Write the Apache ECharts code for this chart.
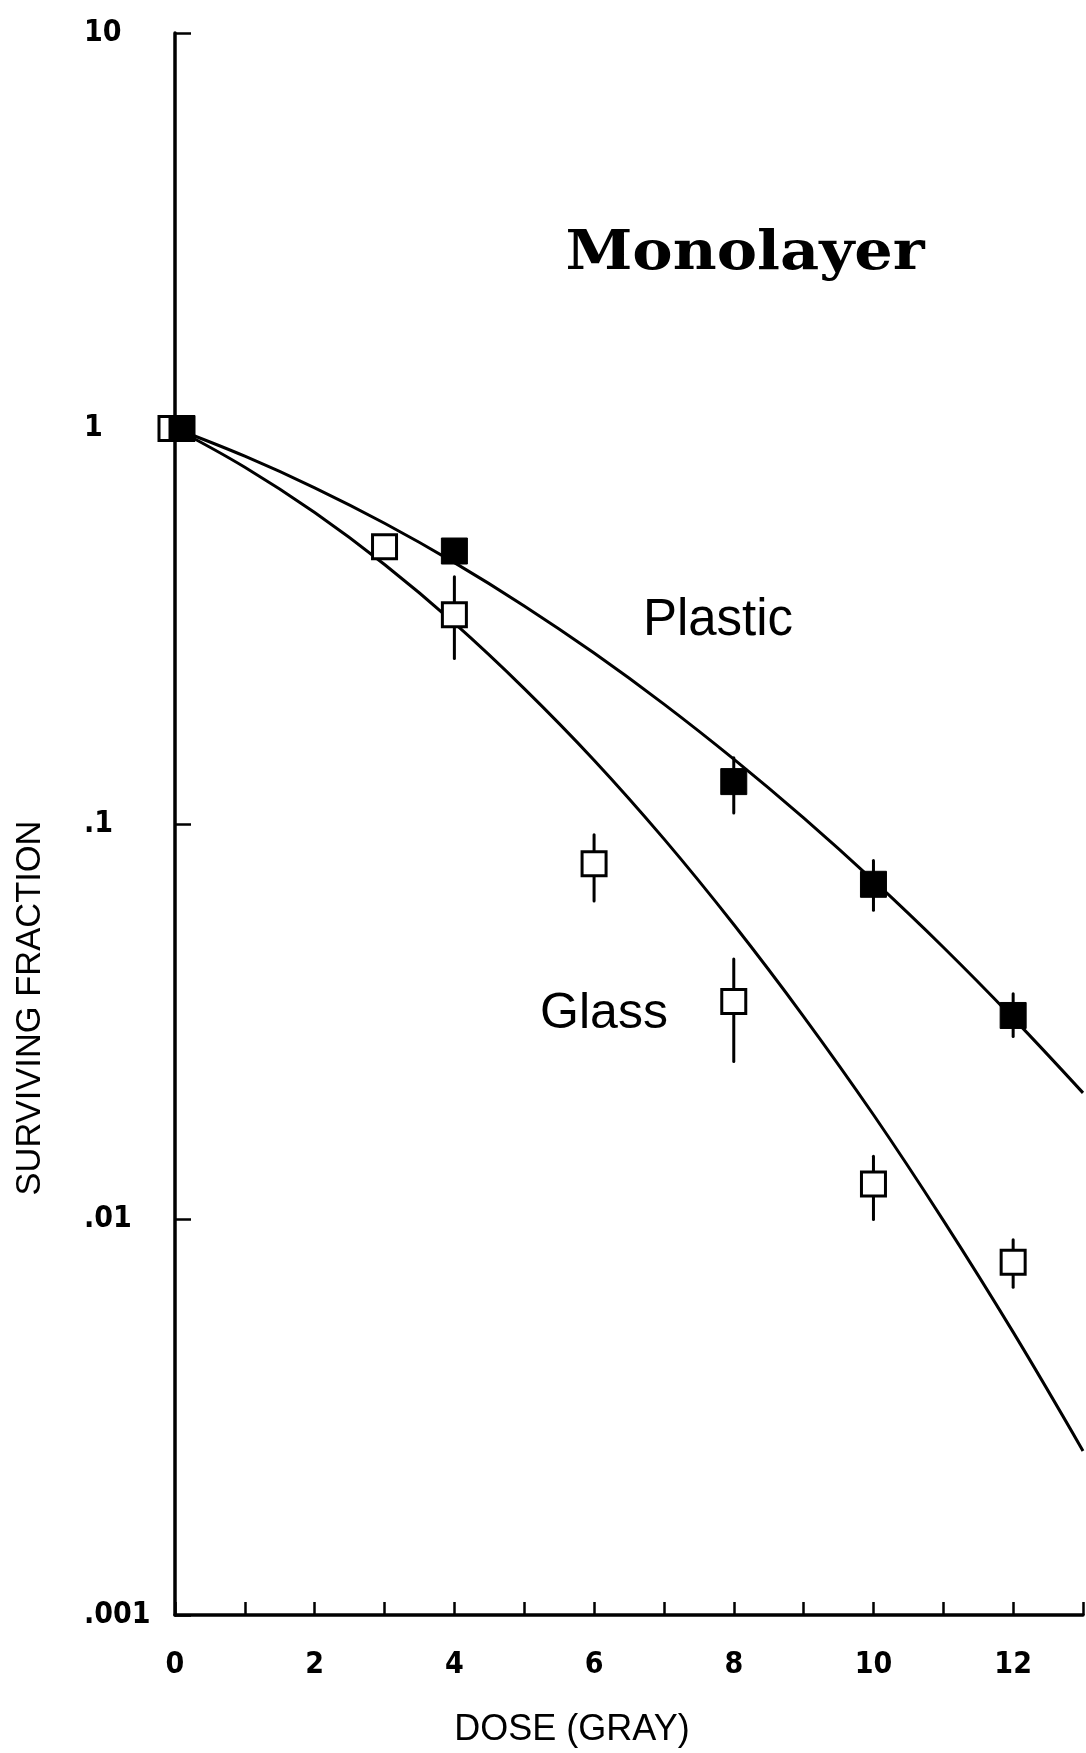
<!DOCTYPE html>
<html><head><meta charset="utf-8">
<script src="https://cdn.jsdelivr.net/npm/echarts@6/dist/echarts.min.js"></script>
<style>html,body{margin:0;padding:0;background:#fff}#c{width:1086px;height:1753px}</style>
</head><body><div id="c"></div>
<script>
// ---- data ----
const plasticDose = [0, 4, 8, 10, 12];
const plasticSF   = [1.0, 0.49, 0.128, 0.0704, 0.0328];
const plasticLow  = [null, null, 0.1066, 0.0605, 0.029];
const plasticHigh = [null, null, 0.147, 0.0809, 0.0372];

const glassDose = [0, 3, 4, 6, 8, 10, 12];
const glassSF   = [1.0, 0.502, 0.338, 0.0793, 0.0356, 0.0123, 0.0078];
const glassLow  = [null, null, 0.262, 0.0639, 0.0251, 0.0100, 0.00674];
const glassHigh = [null, null, 0.422, 0.094, 0.0456, 0.01445, 0.00889];

const plasticFitDose = [0, 1, 2, 3, 4, 5, 6, 7, 8, 9, 10, 11, 12, 13];
const plasticFitSF   = [1.0, 0.851, 0.708, 0.576, 0.458, 0.356, 0.2706, 0.201, 0.1459, 0.1036, 0.0719, 0.0488, 0.0323, 0.0209];

const glassFitDose = [0, 1, 2, 3, 4, 5, 6, 7, 8, 9, 10, 11, 12, 13];
const glassFitSF   = [1.0, 0.798, 0.613, 0.453, 0.322, 0.220, 0.145, 0.0917, 0.0557, 0.0326, 0.0184, 0.00995, 0.00519, 0.0026];

const yTickValues = [0.001, 0.01, 0.1, 1, 10];
const yTickLabels = ['.001', '.01', '.1', '1', '10'];
const xLabelledTicks = [0, 2, 4, 6, 8, 10, 12];

const titleText = 'Monolayer';
const plasticLabel = 'Plastic';
const glassLabel = 'Glass';
const xName = 'DOSE (GRAY)';
const yName = 'SURVIVING FRACTION';

// ---- build ----
const chart = echarts.init(document.getElementById('c'), null, {renderer: 'canvas'});
const pairs = (xs, ys) => xs.map((x, i) => [x, ys[i]]);
const bars = (xs, lo, hi) => xs.map((x, i) => [x, lo[i], hi[i]]).filter(d => d[1] != null);
const tickFont = {fontFamily: '"Liberation Sans Narrow", "DejaVu Sans Condensed", "DejaVu Sans Mono", monospace', fontWeight: 'bold', fontSize: 30, color: '#000'};
const errRender = (params, api) => {
  const x = api.value(0);
  const p1 = api.coord([x, api.value(1)]);
  const p2 = api.coord([x, api.value(2)]);
  return {type: 'line', shape: {x1: p1[0], y1: p1[1], x2: p2[0], y2: p2[1]},
          style: {stroke: '#000', lineWidth: 3, lineCap: 'round'}};
};

const option = {
  animation: false,
  backgroundColor: '#fff',
  grid: {left: 175, right: 2, top: 33, bottom: 129, containLabel: false},
  xAxis: {
    type: 'value', min: 0, max: 13, interval: 1,
    axisLine: {lineStyle: {color: '#000', width: 3.5}},
    axisTick: {inside: true, length: 13, lineStyle: {color: '#000', width: 2.5}},
    axisLabel: Object.assign({margin: 35, formatter: v => xLabelledTicks.includes(v) ? String(v) : ''}, tickFont),
    splitLine: {show: false},
    name: xName, nameLocation: 'middle', nameGap: 97,
    nameTextStyle: {fontFamily: '"Liberation Sans", Arial, sans-serif', fontSize: 36, color: '#000', padding: [0, 114, 0, 0]}
  },
  yAxis: {
    type: 'log', logBase: 10, min: 0.001, max: 10,
    axisLine: {show: true, lineStyle: {color: '#000', width: 3.5}},
    axisTick: {show: true, inside: true, length: 16, lineStyle: {color: '#000', width: 2.5}},
    minorTick: {show: false},
    axisLabel: Object.assign({
      align: 'left', margin: 91, padding: [0, 0, 18, 0],
      formatter: v => {
        const i = yTickValues.findIndex(t => Math.abs(Math.log10(t) - Math.log10(v)) < 1e-6);
        return i >= 0 ? yTickLabels[i] : '';
      }
    }, tickFont),
    splitLine: {show: false},
    name: yName, nameLocation: 'middle', nameGap: 127, nameRotate: 90,
    nameTextStyle: {fontFamily: '"Liberation Sans", Arial, sans-serif', fontSize: 34.5, color: '#000', padding: [0, 368, 0, 0]}
  },
  series: [
    {type: 'line', name: 'Glass fit', data: pairs(glassFitDose, glassFitSF), smooth: 0.4, showSymbol: false,
     lineStyle: {color: '#000', width: 3}, z: 2},
    {type: 'line', name: 'Plastic fit', data: pairs(plasticFitDose, plasticFitSF), smooth: 0.4, showSymbol: false,
     lineStyle: {color: '#000', width: 3}, z: 2},
    {type: 'custom', name: 'Glass err', data: bars(glassDose, glassLow, glassHigh), renderItem: errRender, z: 3},
    {type: 'custom', name: 'Plastic err', data: bars(plasticDose, plasticLow, plasticHigh), renderItem: errRender, z: 3},
    {type: 'scatter', name: 'Glass', symbol: 'rect', symbolSize: 24,
     data: pairs(glassDose, glassSF).map((d, i) => i === 0 ? {value: d, symbolOffset: [-4, 0]} : d),
     itemStyle: {color: '#fff', borderColor: '#000', borderWidth: 3, opacity: 1}, z: 4},
    {type: 'scatter', name: 'Plastic', symbol: 'rect', symbolSize: 26,
     data: pairs(plasticDose, plasticSF).map((d, i) => i === 0 ? {value: d, symbolOffset: [7, 0]} : d),
     itemStyle: {color: '#000', borderColor: '#000', borderWidth: 1, opacity: 1}, z: 5}
  ],
  graphic: [
    {type: 'text', x: 745, y: 255, scaleX: 1.12, z: 10,
     style: {text: titleText, font: 'bold 54px "DejaVu Serif", serif', textAlign: 'center', textVerticalAlign: 'middle', fill: '#000'}},
    {type: 'text', x: 718, y: 621, z: 10,
     style: {text: plasticLabel, font: '51px "Liberation Sans", Arial, sans-serif', textAlign: 'center', textVerticalAlign: 'middle', fill: '#000'}},
    {type: 'text', x: 604, y: 1014, z: 10,
     style: {text: glassLabel, font: '50px "Liberation Sans", Arial, sans-serif', textAlign: 'center', textVerticalAlign: 'middle', fill: '#000'}}
  ]
};
chart.setOption(option);
</script>
</body></html>
